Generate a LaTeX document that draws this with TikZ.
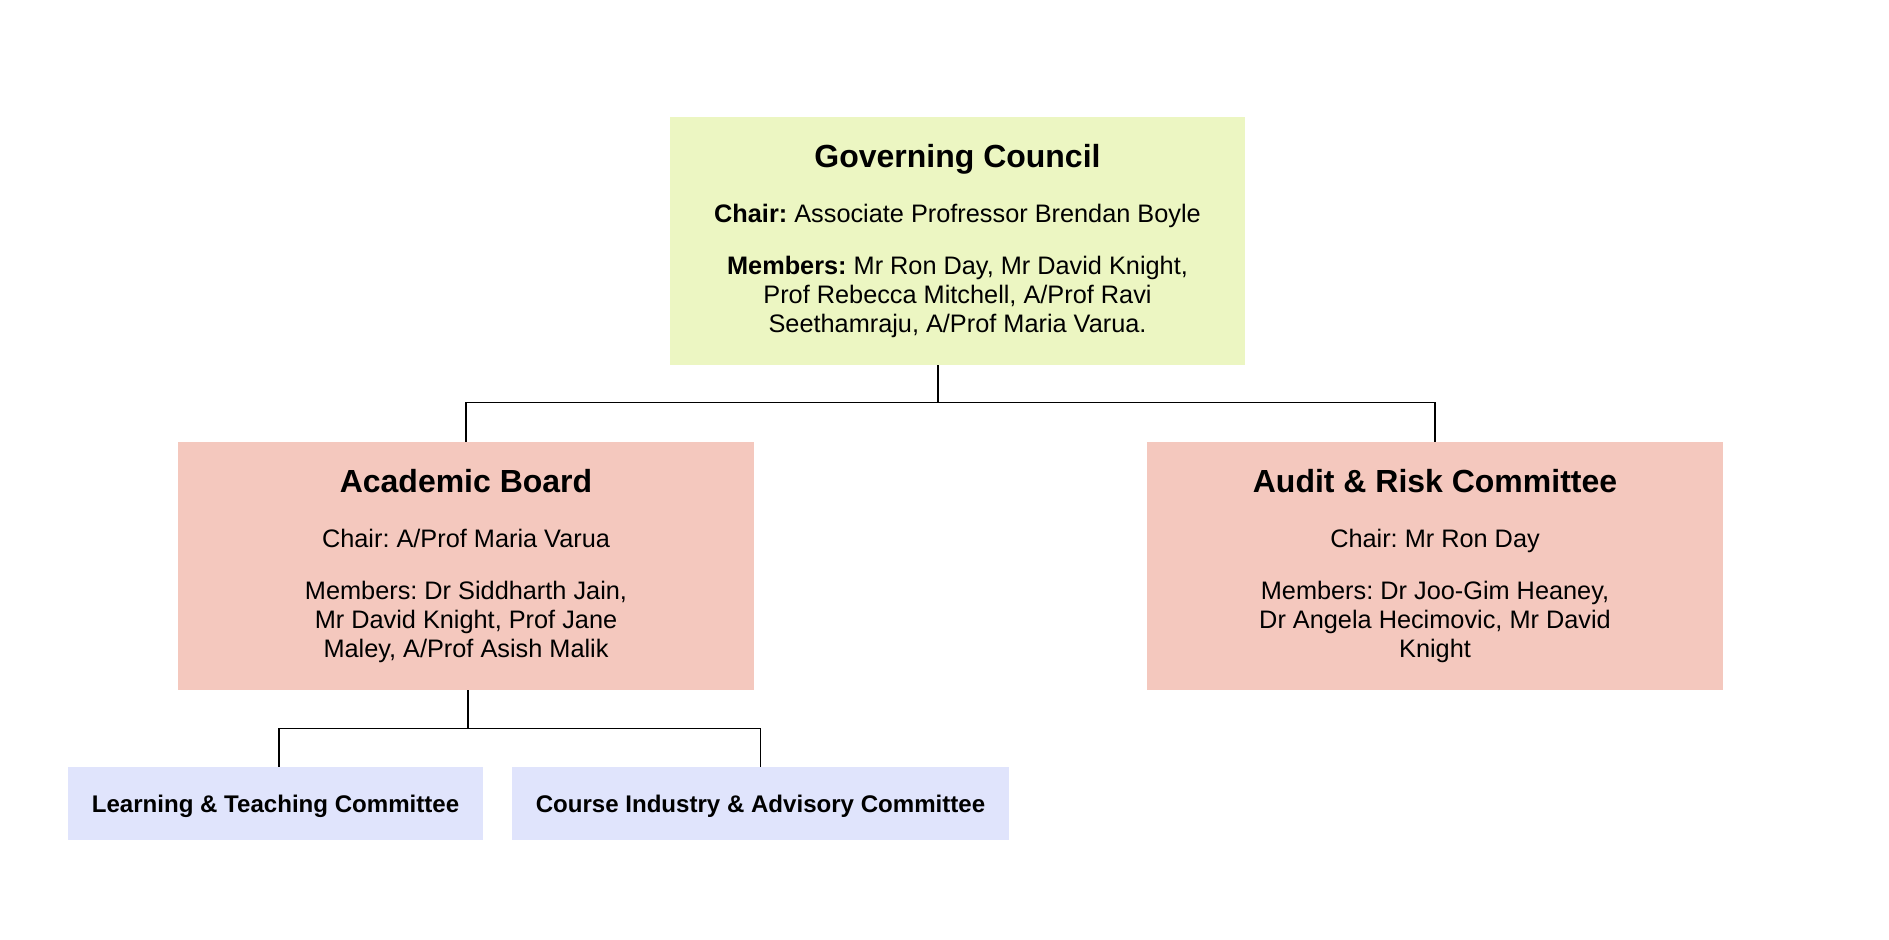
\documentclass[tikz,border=0pt]{standalone}
\usepackage{fontspec}
\setmainfont{Liberation Sans}
\usetikzlibrary{positioning}
\definecolor{councilgreen}{HTML}{ECF6C2}
\definecolor{boardpink}{HTML}{F4C8BE}
\definecolor{committeeblue}{HTML}{E0E4FC}
\newcommand{\headtext}{\fontsize{18.2}{22}\selectfont\bfseries}
\frenchspacing

\begin{document}
\begin{tikzpicture}[
    font=\fontsize{14.4}{16.5}\selectfont,
    council/.style={
        rectangle,
        fill=councilgreen,
        minimum width=11.5cm,
        minimum height=4.96cm,
        inner sep=0pt,
        align=center
    },
    board/.style={
        rectangle,
        fill=boardpink,
        minimum width=11.52cm,
        minimum height=4.96cm,
        inner sep=0pt,
        align=center
    },
    committee/.style={
        rectangle,
        fill=committeeblue,
        minimum height=1.46cm,
        inner sep=0pt,
        align=center,
        font=\fontsize{13.7}{16}\selectfont\bfseries
    },
    link/.style={draw=black, line width=0.6pt}
]
\useasboundingbox (0,0) rectangle (37.78,18.78);

% Council (top)
\node[council] (council) at (19.15,13.96) {{\headtext Governing Council}\\[15pt]
    \textbf{Chair:} Associate Profressor Brendan Boyle\\[13pt]
    \textbf{Members:} Mr Ron Day, Mr David Knight,\\
    Prof Rebecca Mitchell, A/Prof Ravi\\
    Seethamraju, A/Prof Maria Varua.};

% Boards
\node[board] (academic) at (9.32,7.46) {{\headtext Academic Board}\\[15pt]
    Chair: A/Prof Maria Varua\\[13pt]
    Members: Dr Siddharth Jain,\\
    Mr David Knight, Prof Jane\\
    Maley, A/Prof Asish Malik};
\node[board] (audit) at (28.7,7.46) {{\headtext Audit \& Risk Committee}\\[15pt]
    Chair: Mr Ron Day\\[13pt]
    Members: Dr Joo-Gim Heaney,\\
    Dr Angela Hecimovic, Mr David\\
    Knight};

% Committees
\node[committee, minimum width=8.3cm] (learning) at (5.51,2.71) {\raisebox{-1.5pt}[\height][\depth]{Learning \& Teaching Committee}};
\node[committee, minimum width=9.94cm] (industry) at (15.21,2.71) {\raisebox{-1.5pt}[\height][\depth]{Course Industry \& Advisory Committee}};

% Connectors
\draw[link] ([xshift=-0.39cm]council.south) -- ++(0,-0.74) coordinate (councilsplit) -| (academic.north);
\draw[link] (councilsplit) -| (audit.north);
\draw[link] ([xshift=0.04cm]academic.south) -- ++(0,-0.76) coordinate (boardsplit) -| ([xshift=0.07cm]learning.north);
\draw[link] (boardsplit) -| (industry.north);

\end{tikzpicture}
\end{document}
